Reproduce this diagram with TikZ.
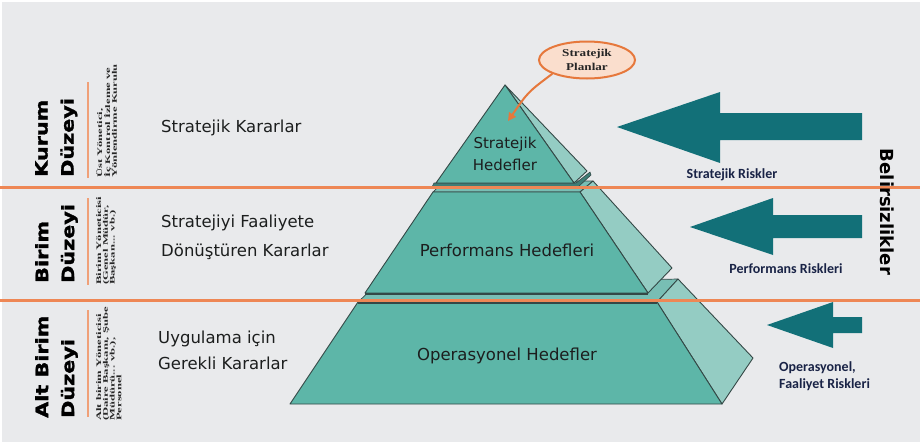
\documentclass[tikz,border=0pt]{standalone}
\usepackage{fontspec}
\setmainfont{DejaVu Sans}
\newfontfamily\heavyfont{DejaVu Sans}[FakeStretch=1.22,FakeBold=1.6]
\newfontfamily\notefont{Liberation Serif}[FakeStretch=1.8]
\newfontfamily\calloutfont{Liberation Serif}[FakeStretch=1.25]
\newfontfamily\riskfont{Carlito}
\usetikzlibrary{shapes.geometric,arrows.meta}

\definecolor{bg}{RGB}{233,234,236}
\definecolor{rule}{RGB}{238,135,85}
\definecolor{rulelight}{RGB}{240,160,120}
\definecolor{front}{RGB}{93,182,168}
\definecolor{side}{RGB}{148,204,195}
\definecolor{topc}{RGB}{120,190,180}
\definecolor{slab}{RGB}{62,125,118}
\definecolor{edge}{RGB}{52,72,70}
\definecolor{arrowteal}{RGB}{18,112,120}
\definecolor{navy}{RGB}{25,35,70}
\definecolor{peach}{RGB}{250,222,205}
\definecolor{callout}{RGB}{230,120,60}
\definecolor{ink}{RGB}{28,30,30}

\begin{document}
\begin{tikzpicture}[x=1pt,y=-1pt,
  frontface/.style={fill=front, draw=edge, line width=0.9pt, line join=round},
  sideface/.style={fill=side, draw=edge, line width=0.9pt, line join=round},
  topface/.style={fill=topc, draw=edge, line width=0.7pt, line join=round},
  slabface/.style={fill=slab, draw=edge, line width=0.6pt},
  riskarrow/.style={fill=arrowteal},
  band/.style={draw=rule, line width=3pt},
  levelrule/.style={draw=rulelight, line width=2pt},
  level/.style={rotate=90, anchor=north west, inner sep=0pt, align=left,
    font=\heavyfont\bfseries\fontsize{17}{26}\selectfont, text=black},
  roles/.style={rotate=90, anchor=north west, inner sep=0pt, align=left,
    font=\notefont\bfseries\fontsize{7}{6.8}\selectfont, text=black!85},
  decision/.style={anchor=west, inner sep=0pt, align=left, text=ink},
  goal/.style={inner sep=0pt, align=center, text=ink},
  risklabel/.style={inner sep=0pt, align=left, text=navy,
    font=\riskfont\bfseries\fontsize{14}{17}\selectfont}
]
\useasboundingbox (0,0) rectangle (920,442);
\fill[white] (0,0) rectangle (920,442);
\fill[bg] (2,2) rectangle (920,442);

% ---- bottom tier: operational goals
\filldraw[topface] (358,302) -- (657,302) -- (678,279) -- (375,286) -- cycle;
\filldraw[sideface] (657,302) -- (678,279) -- (753,358) -- (722,404) -- cycle;
\filldraw[frontface] (358,302) -- (657,302) -- (722,404) -- (290,404) -- cycle;
\draw[edge, line width=1.6pt] (358,303) -- (657,303);

% ---- middle tier: performance goals
\filldraw[topface] (433,192) -- (580,192) -- (593,181) -- (444,181) -- cycle;
\filldraw[sideface] (580,192) -- (593,181) -- (672,268) -- (648,293) -- cycle;
\filldraw[frontface] (433,192) -- (580,192) -- (648,293) -- (365,293) -- cycle;
\draw[edge, line width=1.6pt] (365,294) -- (648,294);

% ---- top tier: strategic goals
\filldraw[slabface] (434,183) -- (576,183) -- (590,172) -- (591,175) -- (578,187) -- (432,187) -- cycle;
\filldraw[sideface] (505,85) -- (587,171) -- (574,183) -- cycle;
\filldraw[frontface] (505,85) -- (574,183) -- (436,183) -- cycle;

% ---- level boundaries
\draw[band] (0,187) -- (920,187);
\draw[band] (0,300) -- (920,300);
\draw[levelrule] (88,82) -- (88,178);
\draw[levelrule] (88,198) -- (88,285);
\draw[levelrule] (88,310) -- (88,417);

% ---- level names
\node[level] (lvl1) at (35,177) {Kurum\\Düzeyi};
\node[level] (lvl2) at (35,283) {Birim\\Düzeyi};
\node[level] (lvl3) at (35,418) {Alt Birim\\Düzeyi};

% ---- responsible roles
\node[roles] (role1) at (96,178) {Üst Yönetici,\\İç Kontrol İzleme ve\\Yönlendirme Kurulu};
\node[roles] (role2) at (96,285) {Birim Yöneticisi\\(Genel Müdür,\\Başkan... vb.)};
\node[roles] (role3) at (96,421) {Alt birim Yöneticisi\\(Daire Başkanı, Şube\\Müdürü... vb.),\\Personel};

% ---- decisions
\node[decision, font=\fontsize{16.5}{29}\selectfont] (dec1) at (161,128) {Stratejik Kararlar};
\node[decision, font=\fontsize{16.5}{29}\selectfont] (dec2) at (161,237) {Stratejiyi Faaliyete\\Dönüştüren Kararlar};
\node[decision, font=\fontsize{16.5}{26}\selectfont] (dec3) at (158,350) {Uygulama için\\Gerekli Kararlar};

% ---- goals on the pyramid
\node[goal, font=\fontsize{15}{22}\selectfont] (goal1) at (505,154) {Stratejik\\Hedefler};
\node[goal, font=\fontsize{16.5}{20}\selectfont] (goal2) at (507,250) {Performans Hedefleri};
\node[goal, font=\fontsize{16.5}{20}\selectfont] (goal3) at (507,356) {Operasyonel Hedefler};

% ---- strategic plans callout
\node[ellipse, draw=callout, line width=2pt, fill=peach, minimum width=96pt, minimum height=37pt,
  inner sep=0pt, align=center, text=black!85,
  font=\calloutfont\bfseries\fontsize{10.5}{14}\selectfont] (plans) at (587,60) {Stratejik\\Planlar};
\coordinate (plantip) at (508,121);
\draw[callout, line width=2pt, -{Triangle[length=8pt,width=8pt]}]
  (plans.south west) .. controls (528,92) .. (plantip);

% ---- risk arrows
\fill[riskarrow] (617,127) -- (720,92) -- (720,113) -- (862,113) -- (862,140) -- (720,140) -- (720,163) -- cycle;
\fill[riskarrow] (690,227) -- (773,198) -- (773,215) -- (862,215) -- (862,238) -- (773,238) -- (773,255) -- cycle;
\fill[riskarrow] (767,325) -- (833,302) -- (833,317) -- (862,317) -- (862,333) -- (833,333) -- (833,348) -- cycle;

\node[risklabel] (risk1) at (732,175) {Stratejik Riskler};
\node[risklabel] (risk2) at (786,269) {Performans Riskleri};
\node[risklabel, anchor=west] (risk3) at (779,376) {Operasyonel,\\Faaliyet Riskleri};

% ---- uncertainty
\node[rotate=-90, inner sep=0pt, font=\bfseries\fontsize{18}{20}\selectfont] (uncert) at (887,212) {Belirsizlikler};
\end{tikzpicture}
\end{document}
